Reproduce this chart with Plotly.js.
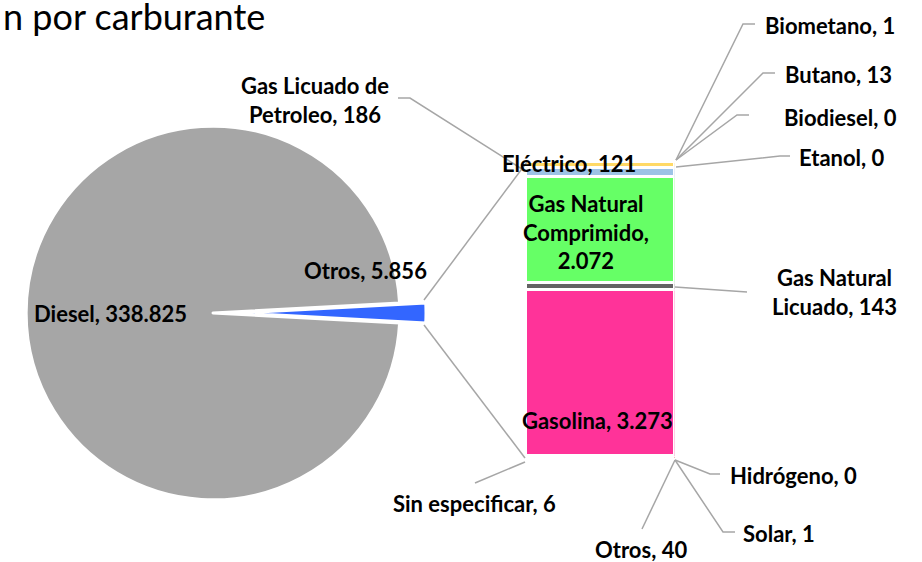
<!DOCTYPE html>
<html>
<head>
<meta charset="utf-8">
<script src="https://cdn.plot.ly/plotly-3.0.1.min.js"></script>
<style>html,body{margin:0;padding:0;background:#fff;}#chart{width:922px;height:562px;}</style>
</head>
<body>
<div id="chart"></div>
<script>
// ---- data ----
var pieLabels = ["Otros", "Diesel"];
var pieValues = [5856, 338825];
var pieColors = ["#3366FF", "#A6A6A6"];

// secondary bar, stacked bottom -> top
var barLabels = ["Sin especificar", "Otros", "Solar", "Hidrógeno", "Gasolina", "Gas Natural Licuado",
                 "Gas Natural Comprimido", "Gas Licuado de Petroleo", "Eléctrico", "Etanol", "Biodiesel", "Butano", "Biometano"];
var barValues = [6, 40, 1, 0, 3273, 143, 2072, 186, 121, 0, 0, 13, 1];
var barColors = ["#7F7F7F", "#C00000", "#FFC000", "#70AD47", "#FF3399", "#636363",
                 "#66FF66", "#9DC3E6", "#FFD966", "#ED7D31", "#5B9BD5", "#FFD966", "#A5A5A5"];

var titleText = "n por carburante";

// ---- helpers ----
var W = 922, H = 562;
function px(x) { return x / W; }
function py(y) { return 1 - y / H; }
function fmt(n) { return String(n).replace(/\B(?=(\d{3})+(?!\d))/g, "."); }
function val(lbl) { return barValues[barLabels.indexOf(lbl)]; }

var traces = [];
traces.push({
  type: "pie", labels: pieLabels, values: pieValues, sort: false,
  direction: "clockwise",
  rotation: 90 - 180 * pieValues[0] / (pieValues[0] + pieValues[1]),
  pull: [0.14, 0],
  marker: {colors: pieColors, line: {color: "#FFFFFF", width: 3}},
  textinfo: "none", hoverinfo: "label+value", showlegend: false,
  domain: {x: [px(0), px(426)], y: [py(526), py(100)]}
});
for (var i = 0; i < barLabels.length; i++) {
  traces.push({
    type: "bar", x: ["b"], y: [barValues[i]], name: barLabels[i], width: 1,
    marker: {color: barColors[i], line: {color: "#FFFFFF", width: 3}},
    showlegend: false, hoverinfo: "name+y"
  });
}

var lblFont = {family: "Lato, 'Liberation Sans', sans-serif", size: 22, color: "#000000", weight: "bold"};
function ann(text, x, y, xanchor) {
  return {text: "<b>" + text + "</b>", x: px(x), y: py(y), xref: "paper", yref: "paper",
          xanchor: xanchor || "center", yanchor: "middle", showarrow: false, font: lblFont, align: "center"};
}
var annotations = [
  {text: titleText, x: px(1), y: py(16), xref: "paper", yref: "paper", xanchor: "left", yanchor: "middle",
   showarrow: false, font: {family: "Lato, 'Liberation Sans', sans-serif", size: 36, color: "#000000"}},
  ann(pieLabels[1] + ", " + fmt(pieValues[1]), 110, 313),
  ann(pieLabels[0] + ", " + fmt(pieValues[0]), 365, 270),
  ann("Gas Licuado de<br>Petroleo, " + fmt(val("Gas Licuado de Petroleo")), 315, 100),
  ann("Eléctrico, " + fmt(val("Eléctrico")), 569, 163),
  ann("Gas Natural<br>Comprimido,<br>" + fmt(val("Gas Natural Comprimido")), 586, 232),
  ann("Gasolina, " + fmt(val("Gasolina")), 597, 420),
  ann("Gas Natural<br>Licuado, " + fmt(val("Gas Natural Licuado")), 834, 292),
  ann("Biometano, " + fmt(val("Biometano")), 830, 25),
  ann("Butano, " + fmt(val("Butano")), 838, 75),
  ann("Biodiesel, " + fmt(val("Biodiesel")), 840, 117),
  ann("Etanol, " + fmt(val("Etanol")), 842, 157),
  ann("Hidrógeno, " + fmt(val("Hidrógeno")), 728, 475, "left"),
  ann("Solar, " + fmt(val("Solar")), 741, 533, "left"),
  ann("Otros, " + fmt(val("Otros")), 641, 549),
  ann("Sin especificar, " + fmt(val("Sin especificar")), 475, 503)
];

var lines = [
  [[676,160],[743,24],[755,24]],
  [[676,160],[763,73],[775,73]],
  [[676,160],[737,115],[749,115]],
  [[676,167],[780,156],[790,156]],
  [[675,287],[747,292]],
  [[398,98],[410,98],[525,171]],
  [[424,300],[527,162]],
  [[424,325],[525,458]],
  [[475,483],[525,462]],
  [[675,460],[642,529]],
  [[675,460],[710,474],[720,474]],
  [[675,460],[723,532],[735,532]]
];
var shapes = lines.map(function (pts) {
  var d = pts.map(function (p, k) { return (k ? "L" : "M") + px(p[0]) + "," + py(p[1]); }).join(" ");
  return {type: "path", xref: "paper", yref: "paper", path: d, line: {color: "#A6A6A6", width: 1.5}, layer: "above"};
});

var layout = {
  width: W, height: H, margin: {l: 0, r: 0, t: 0, b: 0},
  paper_bgcolor: "#FFFFFF", plot_bgcolor: "rgba(0,0,0,0)",
  barmode: "stack", bargap: 0, showlegend: false,
  xaxis: {domain: [px(525.5), px(674.5)], range: [-0.5, 0.5], visible: false, fixedrange: true},
  yaxis: {domain: [py(458), py(160.5)], range: [0, barValues.reduce(function (a, b) { return a + b; }, 0)],
          visible: false, fixedrange: true},
  annotations: annotations, shapes: shapes
};
Plotly.newPlot("chart", traces, layout, {displayModeBar: false, staticPlot: true});
</script>
</body>
</html>
